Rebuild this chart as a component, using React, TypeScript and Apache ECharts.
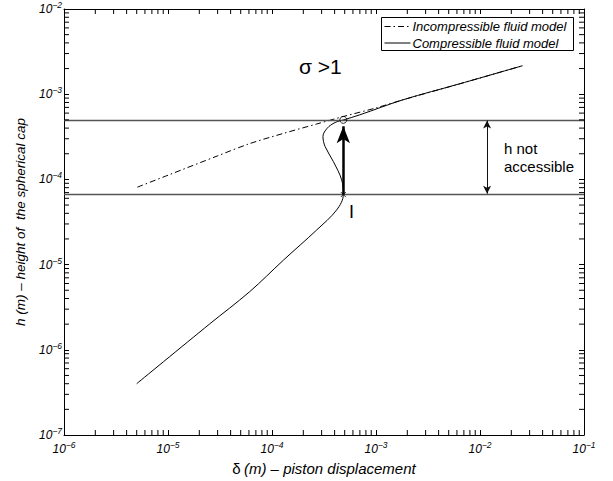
import React, { useEffect, useRef } from "react";
import * as echarts from "echarts";

// Compressible fluid model (delta [m], h [m])
const compressibleDelta = [5.0e-6, 2.5e-5, 6.1e-5, 1.29e-4, 2.69e-4, 4.19e-4, 4.85e-4, 4.68e-4, 3.89e-4, 3.24e-4, 3.09e-4, 3.39e-4, 4.04e-4, 4.9e-4, 7.0e-4, 1.82e-3, 6.46e-3, 2.57e-2];
const compressibleH = [4.0e-7, 2.0e-6, 4.81e-6, 1.13e-5, 2.55e-5, 4.39e-5, 6.64e-5, 9.86e-5, 1.62e-4, 2.43e-4, 3.18e-4, 3.98e-4, 4.65e-4, 5.0e-4, 5.73e-4, 8.6e-4, 1.33e-3, 2.16e-3];

// Incompressible fluid model
const incompDelta = [5.07e-6, 1.0e-5, 3.0e-5, 6.1e-5, 1.29e-4, 2.69e-4, 4.85e-4, 1.0e-3, 1.82e-3, 6.46e-3, 2.57e-2];
const incompH = [8.1e-5, 1.12e-4, 1.89e-4, 2.63e-4, 3.47e-4, 4.47e-4, 5.47e-4, 6.9e-4, 8.6e-4, 1.33e-3, 2.16e-3];

// Annotation levels
const hLevels = [5.0e-4, 6.64e-5];
const pointI = [4.85e-4, 6.64e-5];
const pointTop = [4.85e-4, 5.0e-4];
const jumpArrowEndH = 4.2e-4;
const gapArrowX = 1.17e-2;
const gapArrowEnds = [4.9e-4, 6.8e-5];

// Axes
const xMin = 1e-6, xMax = 1e-1;
const yMin = 1e-7, yMax = 1e-2;
const xExponents = [-6, -5, -4, -3, -2];
const yExponents = [-7, -6, -5, -4, -3];
const minorMantissas = [2, 3, 4, 5, 6, 7, 8, 9];

const seriesNames = ["Incompressible fluid model", "Compressible fluid model"];

const FONT = "'Liberation Sans', Arial, Helvetica, sans-serif";

const GRID = { left: 64, right: 29, top: 9, bottom: 46 };
const TICK = 5;
const TICK_COLOR = "#000";
const DASHDOT = [6, 3, 1.5, 3];

const xMinor: number[] = [];
xExponents.forEach((e) => minorMantissas.forEach((m) => xMinor.push(m * Math.pow(10, e))));
const yMinor: number[] = [];
yExponents.forEach((e) => minorMantissas.forEach((m) => yMinor.push(m * Math.pow(10, e))));

const powLabel = (v: number) => {
  const e = Math.round(Math.log10(v));
  return `{b|10}{e|${e < 0 ? "−" : ""}${Math.abs(e)}}`;
};

const labelRich = {
  b: { fontSize: 12, fontStyle: "italic", fontFamily: FONT, color: "#000" },
  e: { fontSize: 8.5, fontStyle: "italic", fontFamily: FONT, color: "#000", padding: [0, 0, 8, 0] },
};

export default function App() {
  const ref = useRef<HTMLDivElement>(null);
  useEffect(() => {
    if (!ref.current) return;
    const chart = echarts.init(ref.current, undefined, { renderer: "svg" });
    const axisCommon = {
      type: "log" as const,
      axisLine: { show: true, lineStyle: { color: "#000", width: 1 } },
      axisTick: { show: true, inside: true, length: TICK, lineStyle: { color: TICK_COLOR, width: 1 } },
      splitLine: { show: false },
    };
    const tickStyle = { stroke: TICK_COLOR, lineWidth: 1 };
    const minorRender = (params: any, api: any) => {
      const isX = api.value(2) === 0;
      if (isX) {
        const b = api.coord([api.value(0), yMin]);
        const t = api.coord([api.value(0), yMax]);
        return {
          type: "group",
          children: [
            { type: "line", shape: { x1: b[0], y1: b[1], x2: b[0], y2: b[1] - TICK }, style: tickStyle },
            { type: "line", shape: { x1: t[0], y1: t[1], x2: t[0], y2: t[1] + TICK }, style: tickStyle },
          ],
        };
      }
      const l = api.coord([xMin, api.value(1)]);
      const r = api.coord([xMax, api.value(1)]);
      return {
        type: "group",
        children: [
          { type: "line", shape: { x1: l[0], y1: l[1], x2: l[0] + TICK, y2: l[1] }, style: tickStyle },
          { type: "line", shape: { x1: r[0], y1: r[1], x2: r[0] - TICK, y2: r[1] }, style: tickStyle },
        ],
      };
    };
    chart.setOption({
      animation: false,
      backgroundColor: "#fff",
      grid: GRID,
      xAxis: [
        {
          ...axisCommon,
          min: xMin,
          max: xMax,
          position: "bottom",
          axisLabel: { formatter: powLabel, rich: labelRich, margin: 5, showMinLabel: true, showMaxLabel: true },
          name: "{d|δ} {i|(m) – piston displacement}",
          nameLocation: "middle",
          nameGap: 26,
          nameTextStyle: {
            rich: {
              d: { fontSize: 15, fontFamily: FONT, color: "#000" },
              i: { fontSize: 15, fontStyle: "italic", fontFamily: FONT, color: "#000" },
            },
          },
        },
        { ...axisCommon, min: xMin, max: xMax, position: "top", axisLabel: { show: false } },
      ],
      yAxis: [
        {
          ...axisCommon,
          min: yMin,
          max: yMax,
          position: "left",
          axisLabel: { formatter: powLabel, rich: labelRich, margin: 2, showMinLabel: true, showMaxLabel: true },
          name: "h (m) – height of  the spherical cap",
          nameLocation: "middle",
          nameGap: 37,
          nameTextStyle: { fontSize: 13.5, fontStyle: "italic", fontFamily: FONT, color: "#000" },
        },
        { ...axisCommon, min: yMin, max: yMax, position: "right", axisLabel: { show: false } },
      ],
      series: [
        {
          name: seriesNames[0],
          type: "line",
          data: incompDelta.map((d, i) => [d, incompH[i]]),
          symbol: "none",
          smooth: 0.3,
          lineStyle: { color: "#000", width: 1, type: DASHDOT },
          z: 3,
        },
        {
          name: seriesNames[1],
          type: "line",
          data: compressibleDelta.map((d, i) => [d, compressibleH[i]]),
          symbol: "none",
          smooth: 0.35,
          lineStyle: { color: "#000", width: 1, type: "solid" },
          z: 3,
          markLine: {
            silent: true,
            symbol: "none",
            label: { show: false },
            lineStyle: { color: "#555", width: 1.3, type: "solid" },
            data: hLevels.map((h) => [{ coord: [xMin, h] }, { coord: [xMax, h] }]),
          },
        },
        {
          name: "jump",
          type: "line",
          data: [],
          markLine: {
            silent: true,
            label: { show: false },
            lineStyle: { color: "#000", width: 2.5, type: "solid" },
            symbol: ["none", "arrow"],
            symbolSize: [10, 17],
            data: [[{ coord: [pointI[0], pointI[1]] }, { coord: [pointI[0], jumpArrowEndH] }]],
          },
          z: 4,
        },
        {
          name: "gap",
          type: "line",
          data: [],
          markLine: {
            silent: true,
            label: { show: false },
            lineStyle: { color: "#111", width: 1, type: "solid" },
            symbol: ["arrow", "arrow"],
            symbolSize: [6, 8],
            data: [[{ coord: [gapArrowX, gapArrowEnds[0]] }, { coord: [gapArrowX, gapArrowEnds[1]] }]],
          },
        },
        {
          name: "top point",
          type: "scatter",
          data: [pointTop],
          symbol: "circle",
          symbolSize: 7,
          itemStyle: { color: "rgba(255,255,255,0)", borderColor: "#000", borderWidth: 1 },
          z: 10,
        },
        {
          name: "I point",
          type: "scatter",
          data: [pointI],
          symbol: "path://M0,0L10,10M10,0L0,10",
          symbolSize: 5,
          itemStyle: { color: "rgba(0,0,0,0)", borderColor: "#000", borderWidth: 1 },
          z: 10,
        },
        {
          name: "minor ticks",
          type: "custom",
          silent: true,
          data: [...xMinor.map((v) => [v, 1e-5, 0]), ...yMinor.map((v) => [1e-4, v, 1])],
          encode: { x: 0, y: 1 },
          renderItem: minorRender,
          z: 10,
        },
      ],
      graphic: [
        {
          type: "group",
          left: 381,
          top: 17,
          children: [
            { type: "rect", shape: { x: 0, y: 0, width: 192, height: 33 }, style: { fill: "#fff", stroke: "#000", lineWidth: 1 } },
            { type: "line", shape: { x1: 3, y1: 9, x2: 29, y2: 9 }, style: { stroke: "#000", lineWidth: 1, lineDash: DASHDOT } },
            { type: "text", x: 31, y: 9, style: { text: seriesNames[0], fontSize: 13, fontStyle: "italic", fontFamily: FONT, fill: "#000", verticalAlign: "middle" } },
            { type: "line", shape: { x1: 3, y1: 25.5, x2: 29, y2: 25.5 }, style: { stroke: "#000", lineWidth: 1 } },
            { type: "text", x: 31, y: 25.5, style: { text: seriesNames[1], fontSize: 13, fontStyle: "italic", fontFamily: FONT, fill: "#000", verticalAlign: "middle" } },
          ],
          z: 20,
        },
        { type: "text", left: 299, top: 56, style: { text: "σ >1", fontSize: 21, fontFamily: FONT, fill: "#000" } },
        { type: "text", left: 349, top: 203, style: { text: "I", fontSize: 18, fontFamily: FONT, fill: "#000" } },
        { type: "text", left: 504, top: 139, style: { text: "h not\naccessible", fontSize: 15, lineHeight: 18, fontFamily: FONT, fill: "#000" } },
      ],
    });
    return () => chart.dispose();
  }, []);
  return <div ref={ref} style={{ width: 613, height: 481, position: "absolute", left: 0, top: 0 }} />;
}
